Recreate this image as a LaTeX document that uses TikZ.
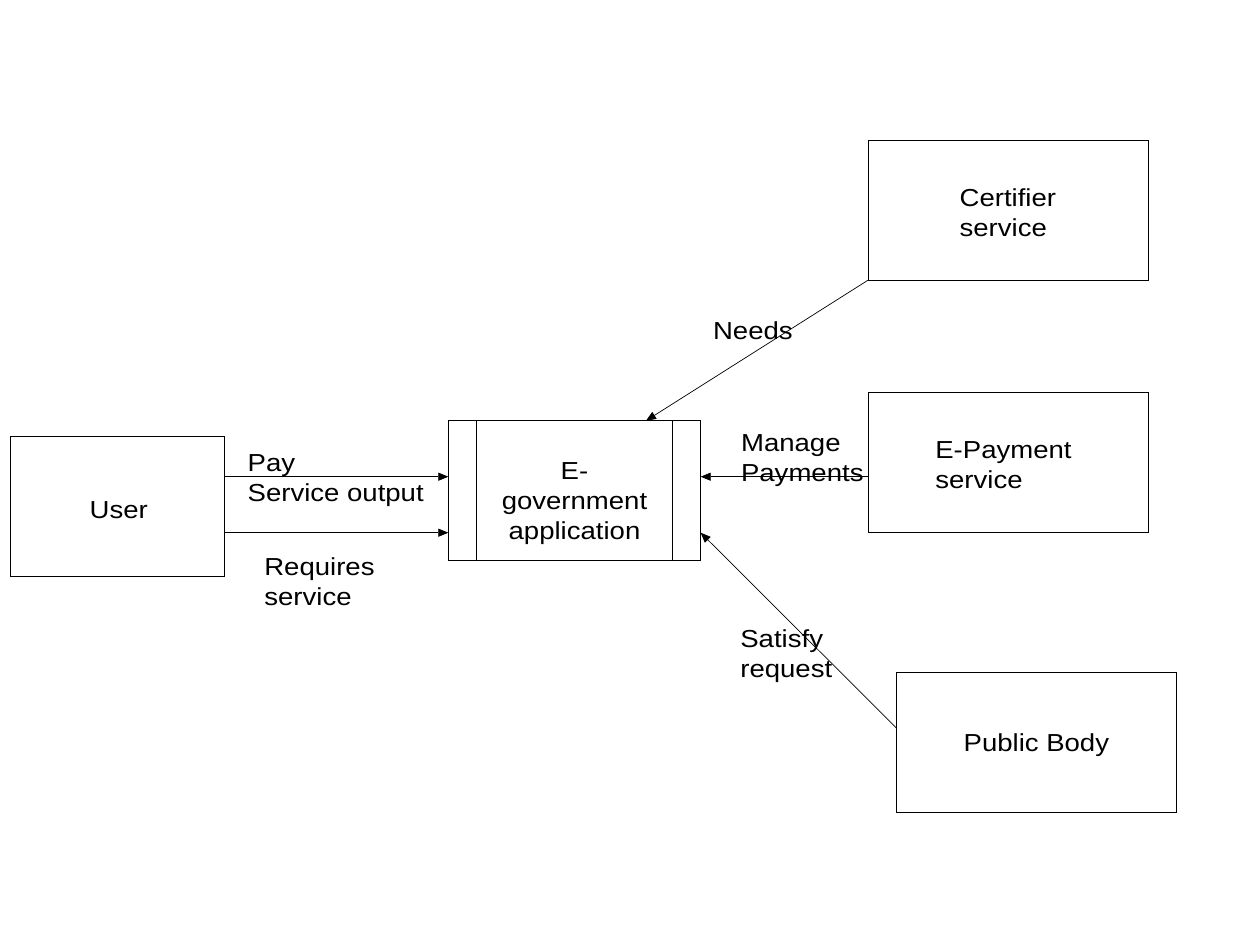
\documentclass[tikz,border=0pt]{standalone}
\usepackage{fontspec}
\setmainfont{Liberation Sans}[FakeStretch=1.12]
\usetikzlibrary{arrows.meta}
\begin{document}
\begin{tikzpicture}[x=0.02cm,y=-0.02cm,
  box/.style={draw, line width=0.55pt, inner sep=0pt, outer sep=0pt},
  inner/.style={line width=0.55pt},
  conn/.style={line width=0.4pt, -{Triangle[length=5.7pt,width=4.6pt]}},
  lbl/.style={font=\fontsize{14}{17}\selectfont, inner sep=0pt, align=left, anchor=base west},
  clbl/.style={font=\fontsize{14}{17}\selectfont, inner sep=0pt, align=center, anchor=base}]
\useasboundingbox[fill=white] (0,0) rectangle (1235,926);
% boxes
\node[box, minimum width=4.28cm, minimum height=2.8cm] (user) at (117.5,506) {};
\node[box, minimum width=5.048cm, minimum height=2.786cm] (egov) at (574.5,490.35) {};
\node[box, minimum width=5.6cm, minimum height=2.786cm] (cert) at (1008.3,210.35) {};
\node[box, minimum width=5.6cm, minimum height=2.8cm] (epay) at (1008.3,462.3) {};
\node[box, minimum width=5.6cm, minimum height=2.79cm] (pub) at (1036.7,742.5) {};
\draw[inner] (egov.north west) ++(28.4,0) -- ++(0,139.3);
\draw[inner] (egov.north east) ++(-28,0) -- ++(0,139.3);
% texts (multi-line nodes: base = last line's baseline)
\node[lbl] (tuser) at (89.3,518.3) {User};
\node[clbl] (tegov) at (574.5,539.5) {E-\\government\\application};
\node[lbl] (tcert) at (959.3,236.7) {Certifier\\service};
\node[lbl] (tepay) at (935,488.3) {E-Payment\\service};
\node[lbl] (tpub) at (963.3,751.7) {Public Body};
% connector coordinates
\coordinate (y1) at (0,476.7);
\coordinate (y2) at (0,532.7);
\coordinate (nx) at (646,0);
\coordinate (py) at (0,728.3);
% connectors
\draw[conn] (user.east |- y1) -- (egov.west |- y1);
\draw[conn] (user.east |- y2) -- (egov.west |- y2);
\draw[conn] (cert.south west) -- (egov.north -| nx);
\draw[conn] (epay.west |- y1) -- (egov.east |- y1);
\draw[conn] (pub.west |- py) -- (egov.east |- y2);
% connector labels
\node[lbl] (lpay) at (247.3,501.7) {Pay\\Service output};
\node[lbl] (lreq) at (264,605) {Requires\\service};
\node[lbl] (lneed) at (712.7,339.3) {Needs};
\node[lbl] (lman) at (740.7,481.7) {Manage\\Payments};
\node[lbl] (lsat) at (740,677.3) {Satisfy\\request};
\end{tikzpicture}
\end{document}
